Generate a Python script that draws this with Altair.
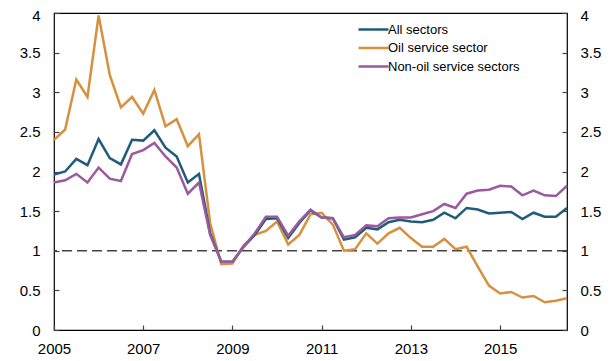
import altair as alt
import pandas as pd

quarters = [f"{2005 + i // 4}Q{i % 4 + 1}" for i in range(47)]

all_sectors = [1.96, 2.00, 2.16, 2.08, 2.41, 2.17, 2.09, 2.40, 2.39, 2.52,
               2.30, 2.19, 1.86, 1.97, 1.22, 0.86, 0.86, 1.05, 1.20, 1.40,
               1.41, 1.16, 1.35, 1.51, 1.42, 1.41, 1.14, 1.17, 1.29, 1.27,
               1.36, 1.39, 1.37, 1.36, 1.39, 1.48, 1.41, 1.54, 1.52, 1.47,
               1.48, 1.49, 1.40, 1.48, 1.43, 1.43, 1.54]
oil_service = [2.40, 2.53, 3.16, 2.94, 3.97, 3.22, 2.81, 2.94, 2.73, 3.03,
               2.57, 2.66, 2.32, 2.47, 1.35, 0.83, 0.84, 1.07, 1.20, 1.25,
               1.37, 1.08, 1.20, 1.46, 1.48, 1.33, 1.00, 1.02, 1.22, 1.09,
               1.22, 1.29, 1.16, 1.05, 1.05, 1.15, 1.02, 1.05, 0.80, 0.56,
               0.46, 0.48, 0.41, 0.43, 0.35, 0.37, 0.40]
non_oil = [1.86, 1.89, 1.97, 1.86, 2.05, 1.91, 1.88, 2.22, 2.27, 2.36,
           2.19, 2.05, 1.72, 1.86, 1.20, 0.86, 0.86, 1.05, 1.22, 1.43,
           1.43, 1.19, 1.37, 1.52, 1.42, 1.41, 1.17, 1.20, 1.32, 1.31,
           1.41, 1.42, 1.42, 1.46, 1.50, 1.59, 1.54, 1.72, 1.76, 1.77,
           1.82, 1.81, 1.70, 1.76, 1.70, 1.69, 1.82]

series_names = ["All sectors", "Oil service sector", "Non-oil service sectors"]
series_colors = ["#1f5b7a", "#d8903f", "#9a5a9e"]
x_ticks = [2005, 2007, 2009, 2011, 2013, 2015]
y_ticks = [0, 0.5, 1, 1.5, 2, 2.5, 3, 3.5, 4]
reference_level = [1.0]

t_vals = [int(q[:4]) + (int(q[-1]) - 1) / 4 for q in quarters]
rows = []
for name, vals, order in [("Oil service sector", oil_service, 0),
                          ("All sectors", all_sectors, 1),
                          ("Non-oil service sectors", non_oil, 2)]:
    for t, v in zip(t_vals, vals):
        rows.append({"t": t, "value": v, "series": name, "z": order})
df = pd.DataFrame(rows)
ref_df = pd.DataFrame({"y": reference_level})

FONT = "Liberation Sans"
top_label_shift = {"condition": {"test": "datum.value == 4", "value": 2}, "value": 0}

x_enc = alt.X("t:Q", scale=alt.Scale(domain=[2005, 2016.5], nice=False, zero=False),
              axis=alt.Axis(values=x_ticks, format="d", title=None, grid=False,
                            domain=False, tickSize=5, offset=-5, labelPadding=11,
                            labelFlush=False))
y_scale = alt.Scale(domain=[0, 4], nice=False)

lines = alt.Chart(df).mark_line(strokeWidth=2.5).encode(
    x=x_enc,
    y=alt.Y("value:Q", scale=y_scale,
            axis=alt.Axis(values=y_ticks, format="~g", title=None, grid=False,
                          domain=False, tickSize=5, offset=-5, labelPadding=14,
                          labelOffset=top_label_shift, orient="left")),
    color=alt.Color("series:N",
                    scale=alt.Scale(domain=series_names, range=series_colors),
                    legend=alt.Legend(orient="none", legendX=313, legendY=10,
                                      title=None, symbolType="M-5,0H5",
                                      symbolSize=36, symbolStrokeWidth=2.5,
                                      labelFontSize=13, labelFont=FONT,
                                      labelOffset=8, rowPadding=4.5, padding=0)),
    detail="z:O",
)

rule = alt.Chart(ref_df).mark_rule(color="#444", strokeWidth=1.5,
                                   strokeDash=[10, 5]).encode(
    y=alt.Y("y:Q", scale=y_scale,
            axis=alt.Axis(values=y_ticks, format="~g", title=None, grid=False,
                          domain=False, tickSize=5, offset=-5, labelPadding=13,
                          labelOffset=top_label_shift, orient="right")),
)

chart = alt.layer(rule, lines).resolve_axis(y="independent").properties(
    width=513, height=317,
    autosize=alt.AutoSizeParams(type="none"),
    padding={"left": 46, "top": 5, "right": 39, "bottom": 30},
).configure_view(stroke="#000", strokeWidth=1.2).configure_axis(
    labelFont=FONT, labelFontSize=15, labelColor="#000", tickColor="#444",
    tickWidth=1.2,
).configure_legend(labelColor="#000")

chart.save("out.html", embed_options={"renderer": "svg", "actions": False})
